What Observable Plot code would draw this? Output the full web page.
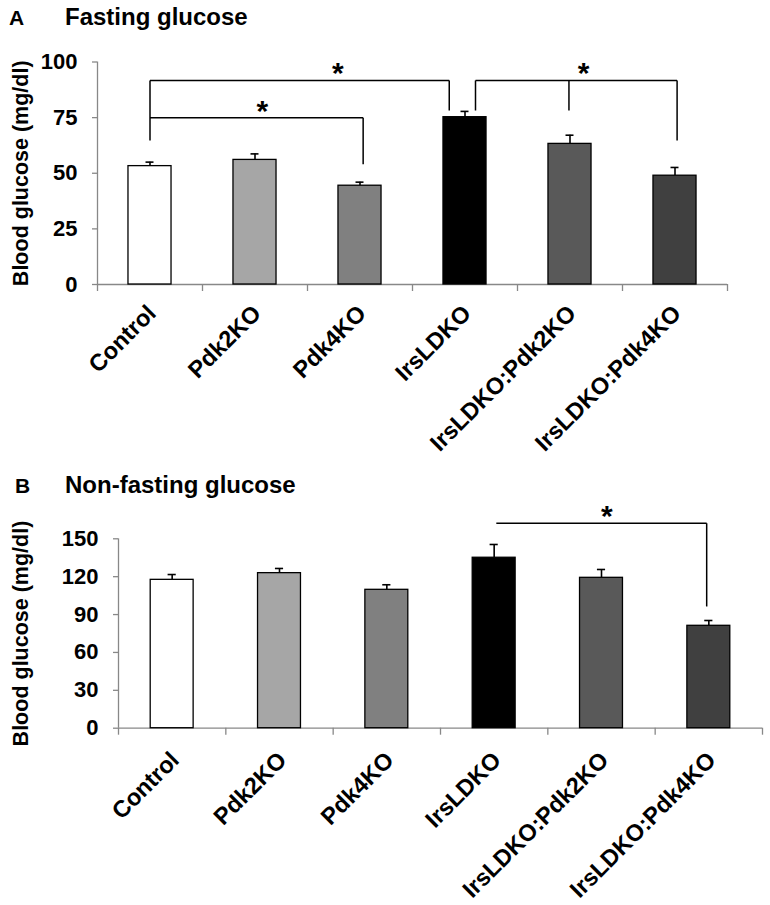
<!DOCTYPE html>
<html><head><meta charset="utf-8">
<script src="https://cdn.jsdelivr.net/npm/d3@7"></script>
<script src="https://cdn.jsdelivr.net/npm/@observablehq/plot@0.6"></script>
<style>
body{margin:0;background:#fff;font-family:"Liberation Sans",Arial,sans-serif;}
#wrap{position:relative;width:770px;height:905px;overflow:hidden;background:#fff;}
.lbl{position:absolute;font-weight:bold;color:#000;white-space:nowrap;line-height:1;}
.panel{position:absolute;left:0;}
</style></head><body>
<div id="wrap">
  <div class="lbl" style="left:9px;top:7.2px;font-size:21px">A</div>
  <div class="lbl" style="left:65px;top:4.7px;font-size:24px">Fasting glucose</div>
  <div class="lbl" style="left:15px;top:475.2px;font-size:21px">B</div>
  <div class="lbl" style="left:65px;top:472.7px;font-size:24px">Non-fasting glucose</div>
  <div class="panel" id="pa" style="top:0px"></div>
  <div class="panel" id="pb" style="top:460px"></div>
</div>
<script>
const categories = ["Control","Pdk2KO","Pdk4KO","IrsLDKO","IrsLDKO:Pdk2KO","IrsLDKO:Pdk4KO"];
const barColors = ["#ffffff","#a6a6a6","#808080","#000000","#595959","#404040"];
const yLabel = "Blood glucose (mg/dl)";

const fastingMean = [53.2, 56.0, 44.4, 75.2, 63.2, 48.9];
const fastingSE   = [1.8, 2.7, 1.6, 2.6, 3.9, 3.7];
const fastingTicks = [0, 25, 50, 75, 100];
// significance brackets (category index units, glucose units)
const fastingBrackets = [
  {x1:0, x2:2.85, y1:91.7, y2:91.7}, {x1:0, x2:0, y1:91.7, y2:64.7}, {x1:2.85, x2:2.85, y1:91.7, y2:78.2},
  {x1:0, x2:2.03, y1:75, y2:75}, {x1:2.03, x2:2.03, y1:75, y2:54},
  {x1:3.1, x2:5.02, y1:91.7, y2:91.7}, {x1:3.1, x2:3.1, y1:91.7, y2:78.2},
  {x1:3.99, x2:3.99, y1:91.7, y2:78.2}, {x1:5.02, x2:5.02, y1:91.7, y2:64.7}
];
const fastingStars = [{x:1.79, y:91.7}, {x:1.07, y:75}, {x:4.13, y:91.7}];

const nonFastingMean = [117.5, 122.8, 109.6, 135.0, 119.1, 81.1];
const nonFastingSE   = [4.2, 3.7, 4.0, 10.5, 6.6, 4.2];
const nonFastingTicks = [0, 30, 60, 90, 120, 150];
const nonFastingBrackets = [
  {x1:3.02, x2:4.98, y1:162.3, y2:162.3}, {x1:4.98, x2:4.98, y1:162.3, y2:96.4}
];
const nonFastingStars = [{x:4.05, y:162.3}];

const FONT = "'Liberation Sans', Arial, sans-serif";

function panel(o) {
  const rows = categories.map((c, i) => ({i, c, v: o.mean[i], e: o.mean[i] + o.se[i], fill: barColors[i]}));
  const half = o.barHalf;
  const cap = 0.038;
  return Plot.plot({
    width: 770, height: o.height,
    marginTop: o.marginTop, marginBottom: o.marginBottom,
    marginLeft: o.marginLeft, marginRight: o.marginRight,
    x: {domain: [-0.5, 5.5]},
    y: {domain: [0, o.yMax]},
    color: {type: "identity"},
    style: {fontFamily: FONT, background: "transparent", overflow: "visible", fontWeight: "bold"},
    marks: [
      Plot.ruleY([0], {stroke: "#888", strokeWidth: 1.3}),
      Plot.ruleX([-0.5], {stroke: "#888", strokeWidth: 1.3}),
      Plot.axisX({ticks: d3.range(-0.5, 6, 1), tickSize: 7, tickFormat: () => "", stroke: "#888", strokeWidth: 1.3, label: null}),
      Plot.axisY({ticks: o.ticks, tickSize: 5, tickPadding: 15, stroke: "#888", strokeWidth: 1.3, fill: "#000", fontSize: 22, fontWeight: "bold", label: null}),
      Plot.ruleX(rows, {x: "i", y1: "v", y2: "e", stroke: "#000", strokeWidth: 1.6}),
      Plot.ruleY(rows, {y: "e", x1: d => d.i - cap, x2: d => d.i + cap, stroke: "#000", strokeWidth: 1.6}),
      Plot.rect(rows, {x1: d => d.i - half, x2: d => d.i + half, y1: d => 0, y2: "v", fill: d => d.fill, stroke: "#000", strokeWidth: 1.3}),
      Plot.link(o.brackets, {x1: "x1", x2: "x2", y1: "y1", y2: "y2", stroke: "#000", strokeWidth: 1.5}),
      Plot.text(o.stars, {x: "x", y: "y", text: () => "*", fontSize: 30, fontWeight: "bold", fill: "#000", lineAnchor: "bottom", dy: 3}),
      Plot.text(rows, {x: "i", frameAnchor: "bottom", text: "c", rotate: -45, textAnchor: "end", lineAnchor: "middle", dx: o.labDx, dy: o.labDy, fontSize: 23.5, fontWeight: "bold", fill: "#000"}),
      Plot.text([yLabel], {frameAnchor: "left", text: d => d, rotate: -90, textAnchor: "middle", lineAnchor: "bottom", dx: 27 - o.marginLeft, fontSize: 21.5, fontWeight: "bold", fill: "#000"})
    ]
  });
}

document.getElementById("pa").appendChild(panel({
  mean: fastingMean, se: fastingSE, ticks: fastingTicks, yMax: 100,
  brackets: fastingBrackets, stars: fastingStars, barHalf: 0.205, labDx: 2, labDy: 25,
  height: 460, marginTop: 61.5, marginBottom: 176, marginLeft: 97, marginRight: 43
}));
document.getElementById("pb").appendChild(panel({
  mean: nonFastingMean, se: nonFastingSE, ticks: nonFastingTicks, yMax: 150,
  brackets: nonFastingBrackets, stars: nonFastingStars, barHalf: 0.2, labDx: 3, labDy: 28,
  height: 445, marginTop: 78.3, marginBottom: 177.3, marginLeft: 118, marginRight: 8
}));
</script>
</body></html>
